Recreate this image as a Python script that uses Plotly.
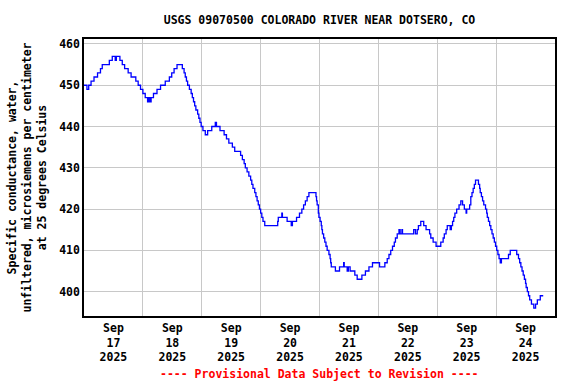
import plotly.graph_objects as go
import pandas as pd

# Elapsed time (days since 2025-09-17 00:00) and specific conductance readings
t_days = [0.00, 0.05, 0.08, 0.12, 0.17, 0.23, 0.28, 0.31, 0.43, 0.48, 0.53, 0.55, 0.61, 0.65,
          0.69, 0.75, 0.80, 0.88, 0.92, 0.96, 1.00, 1.04, 1.08, 1.10, 1.12, 1.14, 1.18, 1.24,
          1.30, 1.38, 1.45, 1.49, 1.53, 1.58, 1.67, 1.70, 1.72, 1.74, 1.76, 1.79, 1.82, 1.84,
          1.86, 1.88, 1.90, 1.93, 1.95, 1.97, 1.99, 2.02, 2.06, 2.10, 2.17, 2.23, 2.25, 2.31,
          2.38, 2.42, 2.46, 2.52, 2.56, 2.66, 2.69, 2.72, 2.74, 2.77, 2.80, 2.83, 2.85, 2.87,
          2.90, 2.92, 2.94, 2.96, 2.98, 3.00, 3.02, 3.04, 3.07, 3.29, 3.30, 3.36, 3.37, 3.45,
          3.52, 3.54, 3.61, 3.66, 3.70, 3.73, 3.76, 3.79, 3.82, 3.94, 3.95, 3.96, 3.98, 3.99,
          4.01, 4.03, 4.04, 4.05, 4.07, 4.09, 4.11, 4.13, 4.16, 4.18, 4.19, 4.20, 4.27, 4.34,
          4.41, 4.42, 4.47, 4.49, 4.52, 4.60, 4.64, 4.72, 4.78, 4.84, 4.90, 5.02, 5.11, 5.15,
          5.18, 5.21, 5.24, 5.27, 5.29, 5.32, 5.35, 5.37, 5.40, 5.41, 5.60, 5.63, 5.66, 5.68,
          5.72, 5.77, 5.81, 5.87, 5.89, 5.93, 5.98, 6.06, 6.10, 6.12, 6.15, 6.17, 6.22, 6.24,
          6.26, 6.28, 6.30, 6.33, 6.37, 6.40, 6.43, 6.46, 6.49, 6.50, 6.55, 6.57, 6.59, 6.61,
          6.63, 6.65, 6.70, 6.72, 6.73, 6.75, 6.77, 6.79, 6.82, 6.84, 6.85, 6.87, 6.89, 6.91,
          6.93, 6.95, 6.97, 6.99, 7.01, 7.03, 7.05, 7.07, 7.09, 7.21, 7.24, 7.35, 7.38, 7.40,
          7.42, 7.44, 7.46, 7.48, 7.50, 7.51, 7.53, 7.55, 7.57, 7.60, 7.64, 7.67, 7.70, 7.75,
          7.80]
conductance = [450, 449, 450, 451, 452, 453, 454, 455, 456, 457, 456, 457, 456, 455,
               454, 453, 452, 451, 450, 449, 448, 447, 446, 447, 446, 447, 448, 449,
               450, 451, 452, 453, 454, 455, 454, 453, 452, 451, 450, 449, 448, 447,
               446, 445, 444, 443, 442, 441, 440, 439, 438, 439, 440, 441, 440, 439,
               438, 437, 436, 435, 434, 433, 432, 431, 430, 429, 428, 427, 426, 425,
               424, 423, 422, 421, 420, 419, 418, 417, 416, 417, 418, 419, 418, 417,
               416, 417, 418, 419, 420, 421, 422, 423, 424, 423, 422, 421, 419, 418,
               417, 416, 415, 414, 413, 412, 411, 410, 409, 408, 407, 406, 405, 406,
               407, 406, 405, 406, 405, 404, 403, 404, 405, 406, 407, 406, 407, 408,
               409, 410, 411, 412, 413, 414, 415, 414, 415, 414, 415, 414, 415, 416,
               417, 416, 415, 414, 413, 412, 411, 412, 413, 414, 415, 416, 415,
               416, 417, 418, 419, 420, 421, 422, 421, 420, 419, 420, 421, 423, 424,
               425, 426, 427, 426, 425, 424, 423, 422, 421, 420, 419, 418, 417, 416,
               415, 414, 413, 412, 411, 410, 409, 408, 407, 408, 409, 410, 409, 408,
               407, 406, 405, 404, 403, 402, 401, 400, 399, 398, 397, 396, 397, 398,
               399, 399]

day_starts = ["2025-09-17", "2025-09-18", "2025-09-19", "2025-09-20",
              "2025-09-21", "2025-09-22", "2025-09-23", "2025-09-24", "2025-09-25"]
tick_positions = ["2025-09-17 12:00", "2025-09-18 12:00", "2025-09-19 12:00", "2025-09-20 12:00",
                  "2025-09-21 12:00", "2025-09-22 12:00", "2025-09-23 12:00", "2025-09-24 12:00"]
tick_labels = ["Sep<br>17<br>2025", "Sep<br>18<br>2025", "Sep<br>19<br>2025", "Sep<br>20<br>2025",
               "Sep<br>21<br>2025", "Sep<br>22<br>2025", "Sep<br>23<br>2025", "Sep<br>24<br>2025"]
y_ticks = [400, 410, 420, 430, 440, 450, 460]

n = min(len(t_days), len(conductance))
base = pd.Timestamp("2025-09-17 00:00")
times = [base + pd.Timedelta(days=d) for d in t_days[:n]]

FONT = "DejaVu Sans Mono"

fig = go.Figure()
fig.add_trace(go.Scatter(
    x=times, y=conductance[:n], mode="lines",
    line=dict(color="#0000ff", width=1.3, shape="hv"),
    showlegend=False, hoverinfo="skip"))

fig.update_layout(
    width=576, height=384,
    margin=dict(l=84, r=21, t=39, b=68),
    paper_bgcolor="white", plot_bgcolor="white",
    font=dict(family=FONT, size=11.5, color="black", weight="bold"),
    title=dict(text="USGS 09070500 COLORADO RIVER NEAR DOTSERO, CO",
               x=0.5, xref="paper", xanchor="center",
               y=1 - 20 / 384, yref="container", yanchor="middle",
               font=dict(family=FONT, size=11.5, color="black", weight="bold")),
    xaxis=dict(
        type="date",
        range=[day_starts[0], day_starts[-1]],
        tickmode="array", tickvals=tick_positions, ticktext=tick_labels,
        showgrid=False, ticks="",
        minor=dict(tickmode="array", tickvals=day_starts, showgrid=True,
                   gridcolor="#c8c8c8", gridwidth=1, ticks=""),
        showline=True, linecolor="black", linewidth=1.5, mirror=True,
        tickfont=dict(family=FONT, size=11.5, color="black", weight="bold"),
        zeroline=False,
    ),
    yaxis=dict(
        range=[394.1, 461.2],
        tickmode="array", tickvals=y_ticks,
        showgrid=True, gridcolor="#c8c8c8", gridwidth=1, ticks="",
        showline=True, linecolor="black", linewidth=1.5, mirror=True,
        tickfont=dict(family=FONT, size=11.5, color="black", weight="bold"),
        zeroline=False,
        title=dict(text="Specific conductance, water,<br>unfiltered, microsiemens per centimeter<br>at 25 degrees Celsius",
                   font=dict(family=FONT, size=11.5, color="black", weight="bold"),
                   standoff=10),
    ),
    annotations=[dict(
        text="---- Provisional Data Subject to Revision ----",
        xref="paper", yref="paper", x=0.5, y=-0.209,
        xanchor="center", yanchor="middle", showarrow=False,
        font=dict(family=FONT, size=11.5, color="#ff0000", weight="bold"))],
)

fig.write_html("out.html",
               config={"displayModeBar": False},
               post_script="document.body.style.margin='0';document.body.style.padding='0';")
